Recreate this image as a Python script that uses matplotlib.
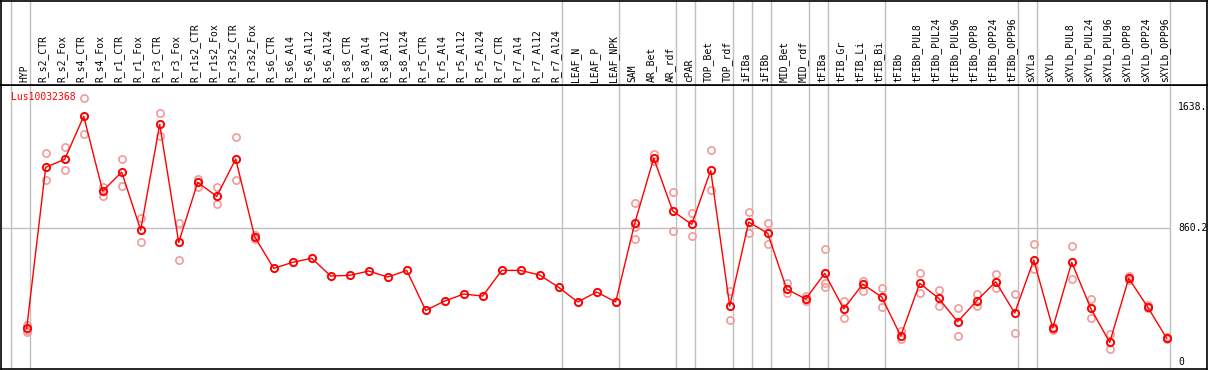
import matplotlib.pyplot as plt
from matplotlib.transforms import blended_transform_factory

plt.switch_backend("agg")

gene = "Lus10032368"

samples = ["HYP",
           "R_s2_CTR", "R_s2_Fox", "R_s4_CTR", "R_s4_Fox", "R_r1_CTR", "R_r1_Fox",
           "R_r3_CTR", "R_r3_Fox", "R_r1s2_CTR", "R_r1s2_Fox", "R_r3s2_CTR", "R_r3s2_Fox",
           "R_s6_CTR", "R_s6_Al4", "R_s6_Al12", "R_s6_Al24",
           "R_s8_CTR", "R_s8_Al4", "R_s8_Al12", "R_s8_Al24",
           "R_r5_CTR", "R_r5_Al4", "R_r5_Al12", "R_r5_Al24",
           "R_r7_CTR", "R_r7_Al4", "R_r7_Al12", "R_r7_Al24",
           "LEAF_N", "LEAF_P", "LEAF_NPK",
           "SAM", "AR_Bet", "AR_rdf", "cPAR", "TOP_Bet", "TOP_rdf",
           "iFIBa", "iFIBb", "MID_Bet", "MID_rdf",
           "tFIBa", "tFIB_Gr", "tFIB_Li", "tFIB_Bi",
           "tFIBb", "tFIBb_PUL8", "tFIBb_PUL24", "tFIBb_PUL96",
           "tFIBb_OPP8", "tFIBb_OPP24", "tFIBb_OPP96",
           "sXYLa", "sXYLb", "sXYLb_PUL8", "sXYLb_PUL24", "sXYLb_PUL96",
           "sXYLb_OPP8", "sXYLb_OPP24", "sXYLb_OPP96"]

means = [215,
         1251, 1302, 1579, 1098, 1220, 847, 1527, 768, 1154, 1064, 1304, 804,
         601, 640, 666, 552, 556, 584, 545, 588,
         331, 391, 436, 423, 588, 588, 558, 479,
         385, 449, 385,
         891, 1309, 970, 884, 1231, 359,
         899, 826, 468, 404,
         569, 340, 500, 417,
         166, 505, 408, 258, 393, 515, 314,
         655, 217, 640, 344, 125, 537, 352, 151]

reps = [[237, 204, 192],
        [1341, 1169], [1379, 1231], [1696, 1463], [1126, 1066], [1302, 1128], [923, 768],
        [1600, 1452], [891, 653], [1177, 1124], [1124, 1013], [1445, 1169], [815, 790],
        [], [], [], [], [], [], [], [],
        [], [], [], [], [], [], [], [],
        [], [], [],
        [1019, 869, 790], [1336, 1293], [1090, 839], [955, 809], [1360, 1103], [453, 269],
        [963, 826], [891, 757], [505, 440], [425, 389],
        [725, 505, 483], [391, 280], [521, 455], [473, 350],
        [196, 145], [569, 442], [460, 357], [344, 166], [436, 361], [565, 473], [436, 183],
        [756, 597], [226, 204], [745, 532], [402, 280], [177, 80], [550, 526], [367, 344],
        [158, 145]]

# first sample of each group, plus the end
group_starts = [0, 1, 29, 32, 35, 36, 38, 39, 40, 42, 43, 46, 53, 54, 61]

y_ticks = [0, 860.2, 1638]
y_tick_labels = ["0", "860.2", "1638."]

W, H = 1209, 370
fig = plt.figure(figsize=(W / 100, H / 100), dpi=100)

left, right = 1 / W, 1207 / W
ax = fig.add_axes([left, 1 / H, right - left, 284 / H])
head = fig.add_axes([left, 285 / H, right - left, 84.5 / H])

xlim = (-1.353, 62.12)
grey = "#c0c0c0"
mono = "DejaVu Sans Mono"

for a in (ax, head):
    a.set_xlim(*xlim)
    a.set_xticks([])
    a.set_yticks([])
    for s in a.spines.values():
        s.set_color("black")
        s.set_linewidth(1.2)
    for g in group_starts:
        a.axvline(g - 0.81, color=grey, lw=1, zorder=0)

ax.set_ylim(-46, 1780)
head.set_ylim(0, 1)

# horizontal grid at the middle value
ax.hlines(860.2, xlim[0], 60.19, color=grey, lw=1, zorder=0)

x = list(range(len(samples)))
for i, r in enumerate(reps):
    if r:
        ax.plot([i] * len(r), r, linestyle="none", marker="o", ms=5.2,
                mfc="none", mec="#f29a9a", mew=1.2, zorder=2)
ax.plot(x, means, color="red", lw=1, marker="o", ms=5.2, mfc="none",
        mec="red", mew=1.4, zorder=3)

tr = blended_transform_factory(head.transData, head.transAxes)
for i, name in enumerate(samples):
    head.text(i - 0.13, 0.03, name, rotation=90, ha="center", va="bottom",
              fontsize=7, family=mono, transform=tr)

for v, lab in zip(y_ticks, y_tick_labels):
    ax.text(60.59, v, lab, ha="left", va="center", fontsize=7, family=mono)

ax.text(0.008, 0.957, gene, color="red", ha="left", va="center",
        fontsize=7, family=mono, transform=ax.transAxes)

fig.savefig("out.png", dpi=100)
